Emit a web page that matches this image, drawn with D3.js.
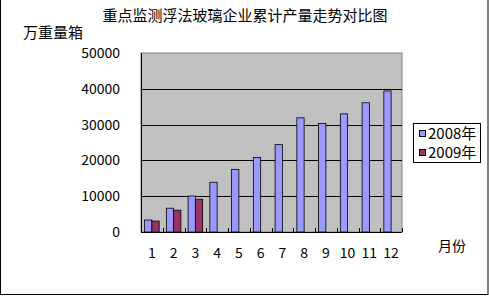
<!DOCTYPE html>
<html>
<head>
<meta charset="utf-8">
<script src="https://cdn.jsdelivr.net/npm/d3@7"></script>
<style>
  html, body { margin: 0; padding: 0; background: #fff; }
  svg { display: block; }
  text { font-family: "Noto Sans CJK SC", "Liberation Sans", sans-serif; fill: #000; }
</style>
</head>
<body>
<svg id="chart" width="489" height="296"></svg>
<script>
const months = ['1', '2', '3', '4', '5', '6', '7', '8', '9', '10', '11', '12'];
const seriesNames = ['2008年', '2009年'];
const values2008 = [3350, 6650, 10050, 13900, 17500, 20800, 24400, 31900, 30300, 33000, 36100, 39400];
const values2009 = [3050, 6100, 9150, null, null, null, null, null, null, null, null, null];
const yTicks = [0, 10000, 20000, 30000, 40000, 50000];
const colors = ['#9999ff', '#993366'];

const svg = d3.select('#chart');
const width = 489;
const height = 296;

// outer frame
svg.append('rect').attr('x', 0.5).attr('y', -1).attr('width', width - 1.5).attr('height', height - 0.5)
  .attr('fill', '#fff').attr('stroke', '#000').attr('stroke-width', 1);

const plot = { left: 141, right: 402, top: 53, bottom: 232 };
const x = d3.scaleBand().domain(months).range([plot.left, plot.right]).paddingInner(0.33).paddingOuter(0.165);
const band = d3.scaleBand().domain(seriesNames).range([0, x.bandwidth()]);
const y = d3.scaleLinear().domain([0, 50000]).range([plot.bottom, plot.top]);

svg.append('rect').attr('x', plot.left).attr('y', plot.top).attr('width', plot.right - plot.left).attr('height', plot.bottom - plot.top)
  .attr('fill', '#c0c0c0').attr('stroke', '#808080');

// gridlines
svg.append('g').selectAll('line').data(yTicks.slice(1, -1)).join('line')
  .attr('x1', plot.left).attr('x2', plot.right)
  .attr('y1', (d) => Math.round(y(d)) + 0.5).attr('y2', (d) => Math.round(y(d)) + 0.5)
  .attr('stroke', '#000');

// bars
const rows = months.map((m, i) => ({ month: m, vals: [values2008[i], values2009[i]] }));
svg.append('g').selectAll('g').data(rows).join('g')
  .attr('transform', (d) => `translate(${x(d.month)},0)`)
  .selectAll('rect')
  .data((d) => d.vals.map((v, k) => ({ name: seriesNames[k], value: v, k })).filter((e) => e.value != null))
  .join('rect')
  .attr('x', (d) => band(d.name))
  .attr('y', (d) => y(d.value))
  .attr('width', band.bandwidth())
  .attr('height', (d) => y(0) - y(d.value))
  .attr('fill', (d) => colors[d.k])
  .attr('stroke', '#000').attr('stroke-width', 0.8);

// axes
const stepW = (plot.right - plot.left) / months.length;
const boundaries = d3.range(months.length + 1).map((i) => plot.left + i * stepW);
svg.append('g').selectAll('line').data(boundaries).join('line')
  .attr('x1', (d) => Math.round(d) + 0.5).attr('x2', (d) => Math.round(d) + 0.5)
  .attr('y1', plot.bottom - 4).attr('y2', plot.bottom)
  .attr('stroke', '#000');
svg.append('line').attr('x1', plot.left).attr('x2', plot.right).attr('y1', plot.bottom + 0.5).attr('y2', plot.bottom + 0.5).attr('stroke', '#000');
svg.append('line').attr('x1', plot.left + 0.5).attr('x2', plot.left + 0.5).attr('y1', plot.top).attr('y2', plot.bottom + 0.5).attr('stroke', '#000');

svg.append('g').selectAll('text').data(yTicks).join('text')
  .attr('x', 120).attr('y', (d) => y(d)).attr('dy', '0.35em')
  .attr('text-anchor', 'end').attr('font-size', 14)
  .attr('font-family', 'Liberation Sans, sans-serif')
  .text((d) => d);

svg.append('g').selectAll('text').data(months).join('text')
  .attr('x', (d) => x(d) + x.bandwidth() / 2).attr('y', 253).attr('dy', '0.35em')
  .attr('text-anchor', 'middle').attr('font-size', 14)
  .attr('font-family', 'Liberation Sans, sans-serif')
  .text((d) => d);

svg.append('text').attr('x', 245).attr('y', 16).attr('dy', '0.35em').attr('text-anchor', 'middle').attr('font-size', 15)
  .text('重点监测浮法玻璃企业累计产量走势对比图');
svg.append('text').attr('x', 23).attr('y', 33).attr('dy', '0.35em').attr('font-size', 15).text('万重量箱');
svg.append('text').attr('x', 438).attr('y', 246).attr('dy', '0.35em').attr('font-size', 14).text('月份');

// legend
const legend = svg.append('g');
legend.append('rect').attr('x', 413.5).attr('y', 123.5).attr('width', 67).attr('height', 39).attr('fill', '#fff').attr('stroke', '#000');
const items = legend.selectAll('g').data(seriesNames).join('g')
  .attr('transform', (d, i) => `translate(0,${134 + i * 19})`);
items.append('rect').attr('x', 419.5).attr('y', -3.5).attr('width', 6).attr('height', 6)
  .attr('fill', (d, i) => colors[i]).attr('stroke', '#000');
items.append('text').attr('x', 428).attr('y', 0).attr('dy', '0.35em').attr('font-size', 15).text((d) => d);
</script>
</body>
</html>
